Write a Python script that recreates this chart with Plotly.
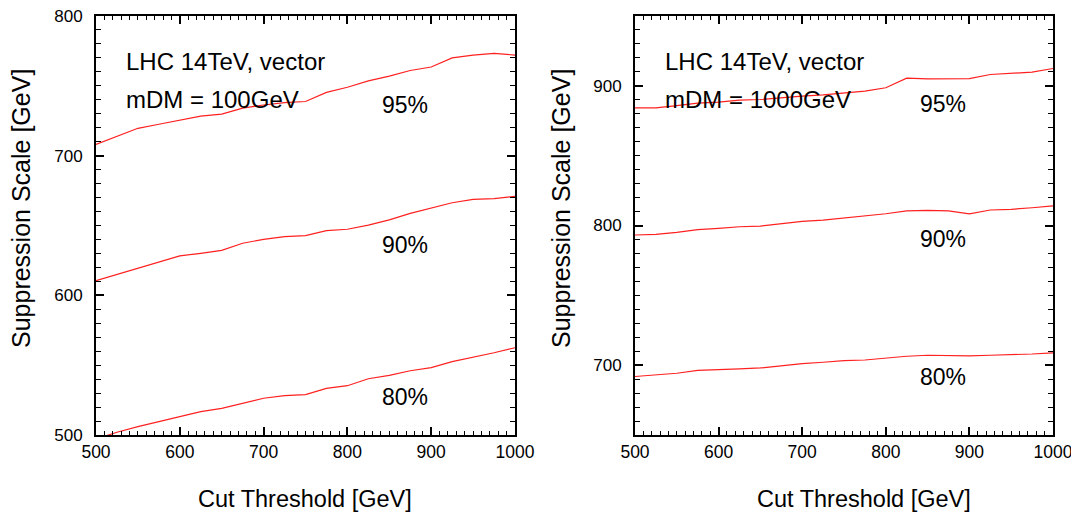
import plotly.graph_objects as go

cut = [500, 525, 550, 575, 600, 625, 650, 675, 700, 725, 750, 775, 800,
       825, 850, 875, 900, 925, 950, 975, 1000]

# mDM = 100 GeV
l95 = [708, 714, 719.6, 722.5, 725.5, 728.3, 729.8, 734, 736.3, 738, 738.8,
       745.3, 749, 753.5, 757, 761, 763.5, 770, 772, 773.3, 772]
l90 = [610.5, 615, 619.4, 624, 628.2, 630.1, 632.2, 637.3, 640.1, 642, 642.7,
       646.3, 647.3, 650.3, 654, 658.7, 662.7, 666.3, 668.7, 669.2, 670.9]
l80 = [497, 502, 506, 509.5, 513.1, 516.7, 519.1, 522.7, 526.3, 528.2, 528.9,
       533.4, 535.3, 540.3, 542.7, 546, 548.2, 552.5, 555.6, 558.9, 562.5]

# mDM = 1000 GeV
r95 = [884.2, 884.2, 885.9, 887.6, 888.3, 889.7, 890.2, 891.6, 892.6, 893.5,
       895, 896.2, 898.6, 905.5, 905, 905, 905.2, 908.1, 908.8, 909.8, 912.4]
r90 = [793.2, 793.7, 795.1, 797, 798, 799.1, 799.6, 801.3, 803, 803.9, 805.4,
       806.6, 808.4, 810.4, 810.9, 810.4, 808.4, 811.1, 811.6, 812.7, 814]
r80 = [691.9, 692.8, 694.2, 696.2, 696.6, 697.3, 698, 699.7, 701.1, 702.1,
       703.3, 703.7, 705.2, 706.4, 707.1, 706.9, 706.6, 707.1, 707.3, 708, 708.8]

levels = ["95%", "90%", "80%"]
left_label_y = [736.3, 636.3, 527]
right_label_y = [887.3, 790.5, 691.6]

FONT = "Liberation Sans, Arial, Helvetica, sans-serif"
RED = "#ff2020"

fig = go.Figure()
for ys in (l95, l90, l80):
    fig.add_trace(go.Scatter(x=cut, y=ys, mode="lines", xaxis="x", yaxis="y",
                             line=dict(color=RED, width=1.2), showlegend=False,
                             hoverinfo="skip"))
for ys in (r95, r90, r80):
    fig.add_trace(go.Scatter(x=cut, y=ys, mode="lines", xaxis="x2", yaxis="y2",
                             line=dict(color=RED, width=1.2), showlegend=False,
                             hoverinfo="skip"))

def xax(domain, anchor):
    return dict(domain=domain, anchor=anchor, range=[500, 1000], dtick=100,
                tick0=500, showgrid=False, zeroline=False, showline=True,
                linecolor="black", linewidth=2, mirror="allticks",
                ticks="inside", ticklen=8, tickwidth=1.5, tickcolor="black",
                minor=dict(dtick=10, ticks="inside", ticklen=4, tickwidth=1,
                           tickcolor="black", showgrid=False),
                tickfont=dict(family=FONT, size=17.5, color="black"),
                ticklabelstandoff=0, automargin=False,
                ticklabeloverflow="allow")

def yax(domain, anchor, rng):
    return dict(domain=domain, anchor=anchor, range=rng, dtick=100,
                tick0=500, showgrid=False, zeroline=False, showline=True,
                linecolor="black", linewidth=2, mirror="allticks",
                ticks="inside", ticklen=8, tickwidth=1.5, tickcolor="black",
                minor=dict(dtick=10, ticks="inside", ticklen=5, tickwidth=1,
                           tickcolor="black", showgrid=False),
                tickfont=dict(family=FONT, size=17, color="black"),
                ticklabelstandoff=8, automargin=False,
                ticklabeloverflow="allow")

# page has an 8px body margin: figure pixel = reference pixel - 8
OFF = 8
W, H = 1079 - OFF, 515 - OFF
def px(x):
    return (x - OFF) / W
def py(y):
    return 1 - (y - OFF) / H

ydom = [py(435), py(16)]
fig.update_layout(
    width=W, height=H, margin=dict(l=0, r=0, t=0, b=0, autoexpand=False),
    paper_bgcolor="white", plot_bgcolor="white",
    xaxis=xax([px(96), px(515)], "y"),
    yaxis=yax(ydom, "x", [500, 800]),
    xaxis2=xax([px(635), px(1053)], "y2"),
    yaxis2=yax(ydom, "x2", [650, 950]),
)

anns = []
tf = dict(family=FONT, size=23, color="black")
tf2 = dict(family=FONT, size=24, color="black")
tfx = dict(family=FONT, size=23.5, color="black")
tfy = dict(family=FONT, size=25, color="black")
for xr, yr, m in (("x", "y", "mDM = 100GeV"), ("x2", "y2", "mDM = 1000GeV")):
    base = 767.3 if yr == "y" else 917.3
    anns.append(dict(x=533, y=base, xref=xr, yref=yr, text="LHC 14TeV, vector",
                     showarrow=False, xanchor="left", yanchor="middle", font=tf2))
    anns.append(dict(x=533, y=base - 27.4, xref=xr, yref=yr, text=m,
                     showarrow=False, xanchor="left", yanchor="middle", font=tf2))
for lab, yl in zip(levels, left_label_y):
    anns.append(dict(x=869, y=yl, xref="x", yref="y", text=lab, showarrow=False,
                     xanchor="center", yanchor="middle", font=tf))
for lab, yl in zip(levels, right_label_y):
    anns.append(dict(x=869, y=yl, xref="x2", yref="y2", text=lab, showarrow=False,
                     xanchor="center", yanchor="middle", font=tf))
# axis titles
for cx in (305, 864):
    anns.append(dict(x=px(cx), y=py(499), xref="paper", yref="paper",
                     text="Cut Threshold [GeV]", showarrow=False,
                     xanchor="center", yanchor="middle", font=tfx))
for cx in (21, 561):
    anns.append(dict(x=px(cx), y=py(209), xref="paper", yref="paper",
                     text="Suppression Scale [GeV]", showarrow=False, textangle=-90,
                     xanchor="center", yanchor="middle", font=tfy))
fig.update_layout(annotations=anns)

fig.write_html("out.html")
